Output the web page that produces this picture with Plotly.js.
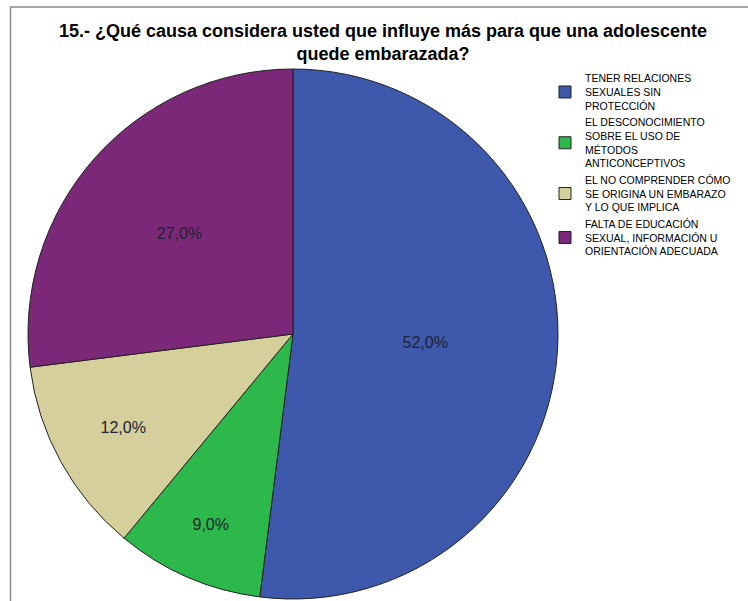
<!DOCTYPE html>
<html>
<head>
<meta charset="utf-8">
<script src="https://cdn.plot.ly/plotly-3.0.1.min.js"></script>
<style>html,body{margin:0;padding:0;background:#fff;}#chart{width:748px;height:601px;}</style>
</head>
<body>
<div id="chart"></div>
<script>
const categories = [
  "TENER RELACIONES<br>SEXUALES SIN<br>PROTECCIÓN",
  "EL DESCONOCIMIENTO<br>SOBRE EL USO DE<br>MÉTODOS<br>ANTICONCEPTIVOS",
  "EL NO COMPRENDER CÓMO<br>SE ORIGINA UN EMBARAZO<br>Y LO QUE IMPLICA",
  "FALTA DE EDUCACIÓN<br>SEXUAL, INFORMACIÓN U<br>ORIENTACIÓN ADECUADA"
];
const percentages = [52.0, 9.0, 12.0, 27.0];
const percentLabels = ["52,0%", "9,0%", "12,0%", "27,0%"];
const sliceColors = ["#3e58ab", "#2db84b", "#d5cf9b", "#7b2878"];

const W = 748, H = 601;
const cx = 293, cy = 334, R = 265;

const trace = {
  type: "pie",
  labels: categories,
  values: percentages,
  text: percentLabels,
  textinfo: "text",
  textposition: "inside",
  insidetextorientation: "horizontal",
  sort: false,
  direction: "clockwise",
  rotation: 0,
  marker: { colors: sliceColors, line: { color: "#222222", width: 1 } },
  textfont: { family: "Liberation Sans, Arial, sans-serif", size: 16, color: "#1e2233" },
  domain: { x: [(cx - R) / W, (cx + R) / W], y: [(H - (cy + R)) / H, (H - (cy - R)) / H] },
  hoverinfo: "label+percent"
};

const layout = {
  width: W, height: H,
  margin: { l: 0, r: 0, t: 0, b: 0 },
  paper_bgcolor: "#ffffff",
  title: {
    text: "<b>15.- ¿Qué causa considera usted que influye más para que una adolescente<br>quede embarazada?</b>",
    font: { family: "Liberation Sans, Arial, sans-serif", size: 18, color: "#000000" },
    x: 383 / W, xanchor: "center",
    y: 1 - 37 / H, yanchor: "top"
  },
  showlegend: true,
  legend: {
    x: 545 / W, xanchor: "left",
    y: 1 - 65 / H, yanchor: "top",
    font: { family: "Liberation Sans, Arial, sans-serif", size: 10.5, color: "#000000" },
    bgcolor: "rgba(0,0,0,0)",
    borderwidth: 0,
    tracegroupgap: 0,
    itemwidth: 30
  },
  shapes: [{
    type: "rect", xref: "paper", yref: "paper",
    x0: 10.5 / W, x1: 1.05, y0: -0.05, y1: 1 - 7 / H,
    line: { color: "#8a8a8a", width: 1.5 }, fillcolor: "rgba(0,0,0,0)"
  }]
};

Plotly.newPlot("chart", [trace], layout, { displayModeBar: false, staticPlot: true });
</script>
</body>
</html>
